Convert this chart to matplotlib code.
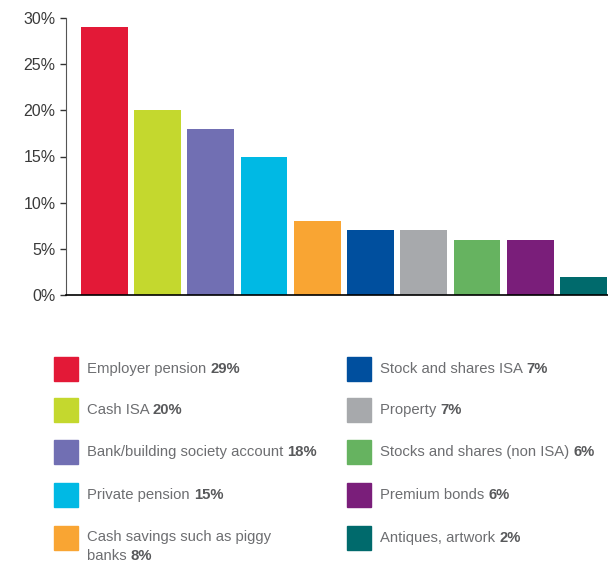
import matplotlib.pyplot as plt
from matplotlib.patches import Rectangle

plt.rcParams['font.family'] = ['Liberation Sans', 'DejaVu Sans']

categories = ['Employer pension', 'Cash ISA', 'Bank/building society account',
              'Private pension', 'Cash savings such as piggy\nbanks',
              'Stock and shares ISA', 'Property', 'Stocks and shares (non ISA)',
              'Premium bonds', 'Antiques, artwork']
values = [29, 20, 18, 15, 8, 7, 7, 6, 6, 2]
colors = ['#e31937', '#c4d82e', '#716fb3', '#00b9e4', '#f9a533',
          '#004f9e', '#a7a9ac', '#66b360', '#7a1e7a', '#006a6c']
yticks = [0, 5, 10, 15, 20, 25, 30]

W, H = 608, 563
fig = plt.figure(figsize=(W / 100, H / 100), dpi=100)
ax = fig.add_axes([66 / W, 1 - 295 / H, 1 - 66 / W, 277 / H])

x = range(len(values))
ax.bar(x, values, width=0.88, color=colors)
ax.set_xlim(-0.72, 9.46)
ax.set_ylim(0, 30)
ax.set_yticks(yticks)
ax.set_yticklabels([f'{t}%' for t in yticks])
ax.set_xticks([])
for s in ['top', 'right']:
    ax.spines[s].set_visible(False)
ax.spines['left'].set_color('#555555')
ax.spines['bottom'].set_color('#000000')
ax.spines['bottom'].set_linewidth(1.2)
ax.tick_params(axis='y', length=4.5, width=1, color='#333333', labelcolor='#3a3a3a',
               labelsize=11.5, pad=3)

# legend drawn by hand, two columns of five
txt_col = '#6d6e71'
bold_col = '#58595b'
fs = 10.7
rows_y = [369, 410, 452, 495, 538]
for i, (name, v, c) in enumerate(zip(categories, values, colors)):
    col, row = divmod(i, 5)
    sx = 54 if col == 0 else 347
    cy = rows_y[row]
    fig.patches.append(Rectangle((sx / W, 1 - (cy + 12) / H), 24 / W, 24 / H,
                                 transform=fig.transFigure, color=c))
    lines = name.split('\n')
    tx = (sx + 33) / W
    if len(lines) == 1:
        t = fig.text(tx, 1 - cy / H, lines[0] + ' ', color=txt_col, fontsize=fs,
                     va='center', ha='left')
    else:
        fig.text(tx, 1 - (cy - 1) / H, lines[0], color=txt_col, fontsize=fs,
                 va='center', ha='left')
        t = fig.text(tx, 1 - (cy + 18) / H, lines[1] + ' ', color=txt_col, fontsize=fs,
                     va='center', ha='left')
    ax.annotate(f'{v}%', xy=(1, 0.5), xycoords=t, va='center', ha='left',
                fontsize=fs, fontweight='bold', color=bold_col, annotation_clip=False)

fig.savefig('out.png', dpi=100)
